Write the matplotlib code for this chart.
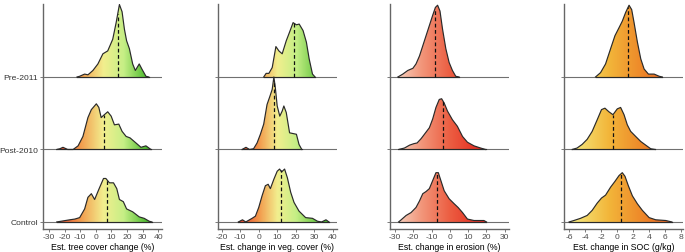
import numpy as np
import matplotlib
matplotlib.use("Agg")
import matplotlib.pyplot as plt
from matplotlib.colors import LinearSegmentedColormap
from matplotlib.patches import Polygon

plt.rcParams['font.family'] = ['Liberation Sans', 'DejaVu Sans']

groups = ["Control", "Post-2010", "Pre-2011"]

# ---- tree cover change (%) ----
tree_ctrl_x = [-25, -16.6, -13.4, -10.3, -7.1, -5.0, -2.8, -0.7, 2.0, 5.0, 6.5, 8.8, 11.4, 13.5, 15.2, 17.7, 19.8, 23.7, 27.9, 31.1, 34.3, 36]
tree_ctrl_y = [0, 0.03, 0.04, 0.06, 0.18, 0.34, 0.39, 0.31, 0.45, 0.60, 0.60, 0.54, 0.54, 0.46, 0.31, 0.28, 0.18, 0.14, 0.07, 0.05, 0.01, 0]
tree_post_x = [-25, -23, -21, -18, -14.5, -11.3, -8.2, -5.0, -2.8, 0.4, 2.0, 3.5, 5.0, 7.7, 9.9, 12.0, 14.8, 16.9, 19.5, 22.0, 25.8, 29.0, 32.2, 35.4]
tree_post_y = [0, 0.01, 0.03, 0.0, 0.0, 0.05, 0.18, 0.44, 0.55, 0.63, 0.58, 0.44, 0.47, 0.52, 0.46, 0.34, 0.35, 0.25, 0.18, 0.16, 0.09, 0.03, 0.05, 0]
tree_pre_x = [-12, -10.3, -8.2, -7.1, -5.0, -3.9, -1.8, 1.4, 4.6, 7.7, 10.9, 13.1, 15.2, 16.9, 18.4, 19.8, 21.6, 23.7, 25.4, 27.9, 29.6, 32.2, 34]
tree_pre_y = [0, 0.01, 0.03, 0.04, 0.03, 0.05, 0.09, 0.18, 0.32, 0.36, 0.52, 0.75, 1.0, 0.9, 0.66, 0.5, 0.39, 0.18, 0.09, 0.18, 0.11, 0.01, 0]
tree_med = [7.1, 5.0, 14.1]

# ---- vegetation cover change (%) ----
veg_ctrl_x = [-11, -8.8, -7, -5, -3.6, -1.8, 0.0, 1.8, 3.6, 5.1, 6.3, 8.2, 10.0, 11.3, 12.4, 14.0, 15.5, 17.3, 19.1, 21.8, 25.4, 29.1, 31.8, 34, 36.4, 38]
veg_ctrl_y = [0, 0.03, 0.0, 0.03, 0.05, 0.08, 0.20, 0.36, 0.50, 0.52, 0.46, 0.59, 0.70, 0.73, 0.69, 0.73, 0.61, 0.41, 0.27, 0.15, 0.06, 0.05, 0.01, 0.0, 0.03, 0]
veg_post_x = [-9, -6.9, -5, -2.8, -0.9, 0.9, 2.7, 4.5, 6.0, 7.3, 8.2, 9.0, 10.0, 11.4, 12.7, 13.6, 14.9, 16.7, 18.5, 20.4, 21.8, 23.3]
veg_post_y = [0, 0.03, 0, 0.01, 0.09, 0.21, 0.35, 0.62, 0.73, 0.83, 1.0, 0.85, 0.60, 0.46, 0.53, 0.60, 0.51, 0.23, 0.22, 0.21, 0.07, 0]
veg_pre_x = [2.7, 4.0, 5.5, 7.3, 9.3, 10.9, 12.7, 14.9, 16.7, 18.6, 20.4, 21.9, 24.0, 25.8, 27.3, 29.1, 30.5]
veg_pre_y = [0, 0.05, 0.05, 0.13, 0.42, 0.36, 0.32, 0.50, 0.62, 0.75, 0.72, 0.73, 0.64, 0.48, 0.25, 0.04, 0]
veg_med = [11.8, 8.5, 19.2]

# ---- erosion change (%) ----
ero_ctrl_x = [-28, -26.6, -23.9, -21.2, -18.5, -16.6, -14.8, -13.0, -11.2, -9.4, -7.6, -6.3, -4.9, -3.1, -0.4, 2.4, 4.5, 6.9, 9.6, 13.2, 18.6, 20]
ero_ctrl_y = [0, 0.03, 0.09, 0.13, 0.20, 0.29, 0.39, 0.42, 0.46, 0.57, 0.68, 0.68, 0.57, 0.43, 0.32, 0.25, 0.20, 0.13, 0.04, 0.02, 0.02, 0]
ero_post_x = [-28, -24.8, -22.0, -19.7, -17.9, -15.7, -13.0, -11.2, -9.4, -7.6, -5.8, -4.5, -3.1, -1.3, 1.4, 4.1, 6.9, 9.6, 13.2, 16.8, 19.5]
ero_post_y = [0, 0.02, 0.06, 0.08, 0.09, 0.15, 0.24, 0.30, 0.42, 0.58, 0.69, 0.70, 0.64, 0.53, 0.41, 0.32, 0.18, 0.10, 0.05, 0.02, 0]
ero_pre_x = [-28.4, -25.7, -23.0, -20.2, -18.5, -16.6, -14.8, -13.0, -11.2, -9.4, -7.9, -6.7, -5.4, -4.0, -2.2, -0.4, 1.4, 3.2, 5]
ero_pre_y = [0, 0.04, 0.09, 0.12, 0.18, 0.29, 0.43, 0.57, 0.71, 0.85, 0.96, 0.99, 0.91, 0.66, 0.39, 0.20, 0.09, 0.01, 0]
ero_med = [-7.1, -4.0, -8.2]

# ---- SOC change (g/kg) ----
soc_ctrl_x = [-6.0, -5.4, -4.57, -3.73, -3.1, -2.47, -1.93, -1.42, -0.79, -0.24, 0.27, 0.68, 1.02, 1.44, 1.95, 2.58, 3.2, 4.05, 4.88, 6.14, 6.9]
soc_ctrl_y = [0, 0.02, 0.05, 0.09, 0.16, 0.26, 0.33, 0.37, 0.48, 0.56, 0.64, 0.68, 0.63, 0.50, 0.36, 0.25, 0.16, 0.06, 0.03, 0.02, 0]
soc_post_x = [-5.6, -5.0, -4.36, -3.73, -3.1, -2.47, -1.93, -1.5, -1.0, -0.49, 0.05, 0.47, 0.9, 1.31, 1.73, 2.36, 3.0, 3.62, 4.25, 4.8]
soc_post_y = [0, 0.02, 0.07, 0.14, 0.25, 0.41, 0.55, 0.57, 0.52, 0.48, 0.56, 0.58, 0.48, 0.34, 0.25, 0.18, 0.11, 0.06, 0.01, 0]
soc_pre_x = [-2.68, -2.05, -1.42, -0.79, -0.24, 0.27, 0.68, 1.1, 1.53, 1.86, 2.16, 2.58, 3.0, 3.42, 3.96, 4.68, 5.31, 5.7]
soc_pre_y = [0, 0.06, 0.18, 0.39, 0.57, 0.68, 0.77, 0.89, 0.99, 0.93, 0.75, 0.48, 0.25, 0.11, 0.04, 0.04, 0.01, 0]
soc_med = [0.47, -0.49, 1.44]

panels = [
    dict(xs=[tree_ctrl_x, tree_post_x, tree_pre_x], ys=[tree_ctrl_y, tree_post_y, tree_pre_y], med=tree_med,
         xlim=(-33.8, 42.5), ticks=[-30, -20, -10, 0, 10, 20, 30, 40], label="Est. tree cover change (%)",
         stops=[(-25, "#e8432a"), (-10, "#f29a4c"), (5, "#f2ee8e"), (18, "#c6ef86"), (33, "#4cba2e")],
         left=43),
    dict(xs=[veg_ctrl_x, veg_post_x, veg_pre_x], ys=[veg_ctrl_y, veg_post_y, veg_pre_y], med=veg_med,
         xlim=(-22.2, 42.2), ticks=[-20, -10, 0, 10, 20, 30, 40], label="Est. change in veg. cover (%)",
         stops=[(-10, "#e8432a"), (0, "#f29a4c"), (10, "#f2ee8e"), (20, "#c6ef86"), (35, "#4cba2e")],
         left=217.7),
    dict(xs=[ero_ctrl_x, ero_post_x, ero_pre_x], ys=[ero_ctrl_y, ero_post_y, ero_pre_y], med=ero_med,
         xlim=(-32.7, 32.3), ticks=[-30, -20, -10, 0, 10, 20, 30], label="Est. change in erosion (%)",
         stops=[(-30, "#f7d6c4"), (-15, "#f29478"), (0, "#ec5e42"), (20, "#e3221a")],
         left=390),
    dict(xs=[soc_ctrl_x, soc_post_x, soc_pre_x], ys=[soc_ctrl_y, soc_post_y, soc_pre_y], med=soc_med,
         xlim=(-6.6, 8.34), ticks=[-6, -4, -2, 0, 2, 4, 6, 8], label="Est. change in SOC (g/kg)",
         stops=[(-6, "#f6ee84"), (-1, "#f2b63a"), (3, "#ee8a2a"), (8, "#e2501a")],
         left=564.3),
]

fig = plt.figure(figsize=(6.85, 2.53), dpi=100)
W, H = 685, 253

for i, p in enumerate(panels):
    ax = fig.add_axes([p["left"] / W, 23 / H, 119 / W, 225 / H])
    x0, x1 = p["xlim"]
    # gradient colormap along x
    lo, hi = p["stops"][0][0], p["stops"][-1][0]
    cm = LinearSegmentedColormap.from_list(
        "g%d" % i, [((v - lo) / (hi - lo), c) for v, c in p["stops"]])
    grad = np.linspace(x0, x1, 400)
    gvals = np.clip((grad - lo) / (hi - lo), 0, 1)[None, :]

    for k in range(3):
        z = 10 - 3 * k  # upper ridges drawn first, lower ones on top
        xs = np.array(p["xs"][k])
        ys = np.array(p["ys"][k]) + k
        ax.plot([x0, x1], [k, k], color="#707070", lw=0.8, zorder=z, solid_capstyle="butt")
        poly = Polygon(np.column_stack([np.r_[xs[0], xs, xs[-1]], np.r_[k, ys, k]]),
                       closed=True, facecolor="none", edgecolor="none")
        ax.add_patch(poly)
        im = ax.imshow(gvals, cmap=cm, vmin=0, vmax=1, aspect="auto",
                       extent=[x0, x1, k, k + 1.05], zorder=z + 0.1, interpolation="bilinear")
        im.set_clip_path(poly)
        ax.plot(xs, ys, color="#2a2a2a", lw=0.85, zorder=z + 0.2)
        ax.plot([xs[0], xs[-1]], [k, k], color="#2a2a2a", lw=0.85, zorder=z + 0.2)
        m = p["med"][k]
        ax.plot([m, m], [k, np.interp(m, xs, ys)], color="#111111", lw=0.9,
                ls=(0, (3, 2)), zorder=z + 0.3)

    ax.set_xlim(x0, x1)
    ax.set_ylim(-0.097, 3.007)
    ax.set_xticks(p["ticks"])
    ax.set_xticklabels([str(t) for t in p["ticks"]])
    ax.set_yticks([0, 1, 2])
    if i == 0:
        ax.set_yticklabels(groups)
    else:
        ax.set_yticklabels([])
    for s in ["top", "right"]:
        ax.spines[s].set_visible(False)
    for s in ["left", "bottom"]:
        ax.spines[s].set_color("#666666")
        ax.spines[s].set_linewidth(1.0)
    ax.tick_params(axis="x", length=2.0, width=0.6, color="#666666", labelsize=6.1,
                   labelcolor="#4d4d4d", pad=1)
    ax.tick_params(axis="y", length=2.0, width=0.6, color="#666666", labelsize=6.1,
                   labelcolor="#333333", pad=1.5)
    ax.set_xlabel(p["label"], fontsize=6.3, labelpad=1)

fig.savefig("out.png", dpi=100)
